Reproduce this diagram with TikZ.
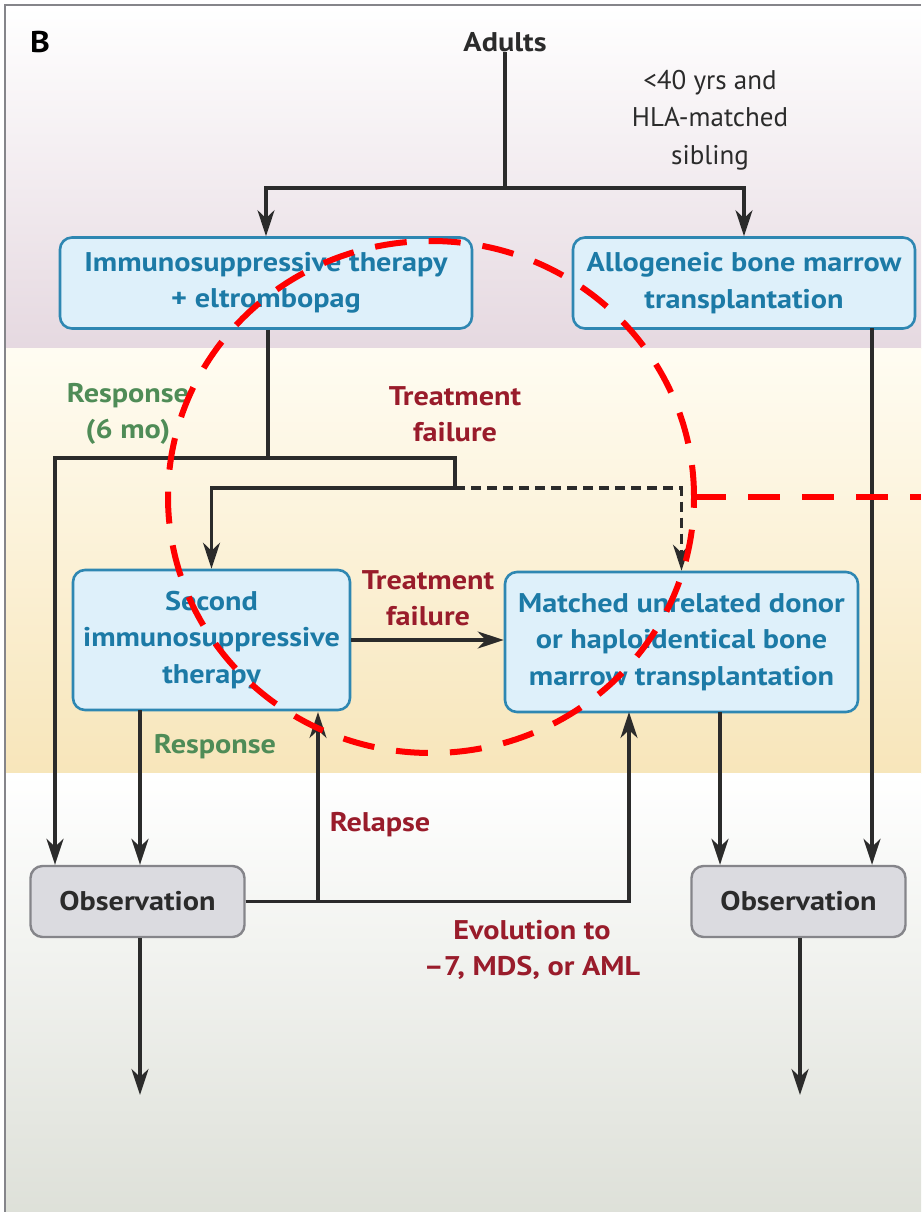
\documentclass[tikz,border=0pt]{standalone}
\usepackage{fontspec}
\setmainfont{PT Sans}[BoldFeatures={FakeStretch=1.12}]
\usepackage{tikz}
\usetikzlibrary{arrows.meta}
\usetikzlibrary{positioning}
\definecolor{mteal}{rgb}{0.11, 0.48, 0.65}
\definecolor{mtealline}{rgb}{0.18, 0.53, 0.70}
\definecolor{mtealfill}{rgb}{0.87, 0.94, 0.98}
\definecolor{mgreyfill}{rgb}{0.86, 0.86, 0.88}
\definecolor{mgreyline}{rgb}{0.52, 0.52, 0.54}
\definecolor{mred}{rgb}{0.60, 0.11, 0.17}
\definecolor{mgreen}{rgb}{0.31, 0.55, 0.34}
\definecolor{mline}{rgb}{0.17, 0.17, 0.17}
\definecolor{mmark}{rgb}{1, 0, 0}
\tikzset{arr/.style = {-{Stealth[length=26pt, width=17pt, inset=8pt]}},
         link/.style = {draw=mline, line width=3.2pt},
         txt/.style = {font=\fontsize{27}{36.5}\selectfont\bfseries, align=center, inner sep=0pt},
         treatbox/.style = {txt, draw=mtealline, fill=mtealfill, text=mteal,
                            line width=2.6pt, rounded corners=12pt},
         obsbox/.style = {txt, draw=mgreyline, fill=mgreyfill, text=mline,
                          line width=2.4pt, rounded corners=12pt,
                          minimum width=214pt, minimum height=71pt},
         redlbl/.style = {txt, text=mred},
         greenlbl/.style = {txt, text=mgreen}}

\begin{document}
\begin{tikzpicture}[x=1pt, y=-1pt]
    \useasboundingbox (0, 0) rectangle (921, 1212);
    % bands
    \shade [top color=white, bottom color={rgb,1:red,0.90;green,0.85;blue,0.88}] (5, 5) rectangle (921, 348);
    \shade [top color={rgb,1:red,1;green,0.99;blue,0.95}, bottom color={rgb,1:red,0.97;green,0.90;blue,0.73}] (5, 348) rectangle (921, 773);
    \shade [top color=white, bottom color={rgb,1:red,0.87;green,0.88;blue,0.85}] (5, 773) rectangle (921, 1212);
    \draw [mgreyline, line width=2pt] (5, 1212) -- (5, 5) -- (921, 5);

    \node [txt, font=\fontsize{30}{36}\selectfont\bfseries] (panel) at (40, 42) {B};
    \node [txt, text=mline] (adults) at (505, 42) {Adults};
    \node [txt, font=\fontsize{27}{37.5}\selectfont, text=mline] (elig) at (710, 120) {<40 yrs and\\HLA-matched\\sibling};

    \node [treatbox, minimum width=412pt, minimum height=91pt] (ist) at (266, 283) {Immunosuppressive therapy\\+ eltrombopag};
    \node [treatbox, minimum width=342pt, minimum height=91pt] (bmt) at (744, 283) {Allogeneic bone marrow\\transplantation};
    \node [treatbox, minimum width=277pt, minimum height=140pt] (sis) at (211.5, 640) {Second\\immunosuppressive\\therapy};
    \node [treatbox, minimum width=353pt, minimum height=140pt] (mud) at (681.5, 642) {Matched unrelated donor\\or haploidentical bone\\marrow transplantation};
    \node [obsbox] (obsl) at (137.5, 901.5) {Observation};
    \node [obsbox] (obsr) at (798.5, 901.5) {Observation};

    \node [greenlbl] (resp6) at (128, 414) {Response\\(6 mo)};
    \node [redlbl] (fail1) at (455, 414) {Treatment\\failure};
    \node [redlbl] (fail2) at (428, 598) {Treatment\\failure};
    \node [greenlbl] (resp2) at (215, 747) {Response};
    \node [redlbl] (relapse) at (380, 825) {Relapse};
    \node [redlbl] (evol) at (532, 950) {Evolution to\\--7, MDS, or AML};

    \coordinate (fork) at (505, 188);
    \coordinate (istout) at (268, 458);
    \coordinate (leftdrop) at (55, 458);
    \coordinate (failfork) at (455, 488);
    \coordinate (sisout) at (140, 710);
    \coordinate (relin) at (318, 712);
    \coordinate (evolin) at (629, 712);
    \coordinate (mudout) at (720, 712);
    \coordinate (bmtout) at (872, 328);
    \coordinate (endl) at (140, 1095);
    \coordinate (endr) at (800, 1095);

    \draw [link] (adults.south) -- (fork);
    \draw [link, arr] (fork) -| (ist.north);
    \draw [link, arr] (fork) -| (bmt.north);
    \draw [link] (ist.south -| istout) -- (istout);
    \draw [link, arr] (istout) -- (leftdrop) -- (leftdrop |- obsl.north);
    \draw [link] (istout) -| (failfork);
    \draw [link, arr] (failfork) -| (sis.north);
    \draw [link, arr, dash pattern=on 10pt off 6pt] (failfork) -| (mud.north);
    \draw [link, arr] (sis.east) -- (sis.east -| mud.west);
    \draw [link, arr] (sisout) -- (sisout |- obsl.north);
    \draw [link, arr] (obsl.east) -| (relin);
    \draw [link, arr] (obsl.east) -| (evolin);
    \draw [link, arr] (mudout) -- (mudout |- obsr.north);
    \draw [link, arr] (bmtout) -- (bmtout |- obsr.north);
    \draw [link, arr] (obsl.south -| endl) -- (endl);
    \draw [link, arr] (obsr.south -| endr) -- (endr);

    % red mark
    \draw [mmark, line width=6pt, dash pattern=on 32pt off 22pt] (431, 497) ellipse [x radius=263pt, y radius=256pt];
    \draw [mmark, line width=6pt, dash pattern=on 32pt off 22pt] (694, 497) -- (921, 497);
\end{tikzpicture}
\end{document}
